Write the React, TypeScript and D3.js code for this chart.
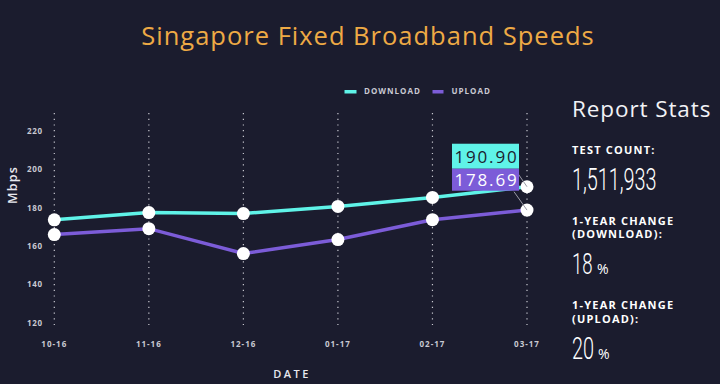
import React from "react";
import * as d3 from "d3";

const dates = ["10-16", "11-16", "12-16", "01-17", "02-17", "03-17"];
const download = [173.6, 177.4, 176.9, 180.6, 185.3, 190.9];
const upload = [165.9, 169.0, 156.0, 163.3, 173.7, 178.69];
const yTicks = [120, 140, 160, 180, 200, 220];
const title = "Singapore Fixed Broadband Speeds";
const statsTitle = "Report Stats";
const testCount = "1,511,933";
const dlChange = "18";
const ulChange = "20";

const W = 720;
const H = 384;
const BG = "#1b1c2e";
const CYAN = "#5ff3e8";
const PURPLE = "#7c5cd8";
const ORANGE = "#eeaa45";
const LABEL = "#c9c9d2";
const FONT = "'Open Sans', 'Noto Sans', sans-serif";

export default function App() {
  const x = d3.scalePoint<string>().domain(dates).range([54.3, 527]);
  const y = d3.scaleLinear().domain([120, 220]).range([322.5, 131]);
  const line = d3
    .line<number>()
    .x((_, i) => x(dates[i]) as number)
    .y((d) => y(d));

  const lastX = x(dates[dates.length - 1]) as number;
  const dlY = y(download[download.length - 1]);
  const ulY = y(upload[upload.length - 1]);
  const boxR = lastX - 8;
  const boxL = boxR - 67;
  const boxTop = dlY - 43;

  const statLabel = {
    fill: "#ffffff",
    fontFamily: FONT,
    fontSize: 11,
    fontWeight: 700,
    letterSpacing: 1.2,
  } as const;

  return (
    <svg
      width={W}
      height={H}
      style={{ position: "absolute", left: 0, top: 0, display: "block" }}
    >
      <rect x={0} y={0} width={W} height={H} fill={BG} />
      <text
        x={368}
        y={45}
        textAnchor="middle"
        fill={ORANGE}
        fontFamily={FONT}
        fontSize={25.5}
        fontWeight={400}
        letterSpacing={1}
      >
        {title}
      </text>

      {/* legend */}
      <rect x={344.5} y={90} width={12} height={3.5} fill={CYAN} />
      <text x={364} y={93.5} fill={LABEL} fontFamily={FONT} fontSize={8} fontWeight={700} letterSpacing={1}>
        DOWNLOAD
      </text>
      <rect x={432.5} y={90} width={11} height={3.5} fill={PURPLE} />
      <text x={451.5} y={93.5} fill={LABEL} fontFamily={FONT} fontSize={8} fontWeight={700} letterSpacing={1}>
        UPLOAD
      </text>

      {/* gridlines */}
      {dates.map((d) => (
        <line
          key={d}
          x1={x(d)}
          x2={x(d)}
          y1={113}
          y2={328}
          stroke="#c8c8d0"
          strokeWidth={1.2}
          strokeDasharray="1.2 4.5"
        />
      ))}

      {/* y ticks */}
      {yTicks.map((t) => (
        <text
          key={t}
          x={43}
          y={y(t) + 3}
          textAnchor="end"
          fill={LABEL}
          fontFamily={FONT}
          fontSize={8}
          fontWeight={700}
          letterSpacing={0.8}
        >
          {t}
        </text>
      ))}
      <text
        transform={`translate(17,185) rotate(-90)`}
        textAnchor="middle"
        fill="#e8e8ee"
        fontFamily={FONT}
        fontSize={12.5}
        fontWeight={600}
        letterSpacing={1.2}
      >
        Mbps
      </text>

      {/* x ticks */}
      {dates.map((d) => (
        <text
          key={d}
          x={x(d)}
          y={347}
          textAnchor="middle"
          fill={LABEL}
          fontFamily={FONT}
          fontSize={8}
          fontWeight={700}
          letterSpacing={1}
        >
          {d}
        </text>
      ))}
      <text
        x={292}
        y={378}
        textAnchor="middle"
        fill="#e8e8ee"
        fontFamily={FONT}
        fontSize={11}
        fontWeight={600}
        letterSpacing={2.5}
      >
        DATE
      </text>

      {/* lines */}
      <path d={line(download) || ""} fill="none" stroke={CYAN} strokeWidth={3.5} />
      <path d={line(upload) || ""} fill="none" stroke={PURPLE} strokeWidth={3.5} />
      {download.map((v, i) => (
        <circle key={"d" + i} cx={x(dates[i])} cy={y(v)} r={6.5} fill="#ffffff" />
      ))}
      {upload.map((v, i) => (
        <circle key={"u" + i} cx={x(dates[i])} cy={y(v)} r={6.5} fill="#ffffff" />
      ))}

      {/* tooltip */}
      <line x1={boxR - 3} y1={boxTop + 27} x2={lastX} y2={dlY} stroke="#9a9aa6" strokeWidth={1} />
      <line x1={boxR - 5} y1={boxTop + 48} x2={lastX} y2={ulY} stroke="#9a9aa6" strokeWidth={1} />
      <rect x={boxL} y={boxTop} width={boxR - boxL} height={25} fill={CYAN} />
      <rect x={boxL} y={boxTop + 25} width={boxR - boxL} height={22} fill={PURPLE} />
      <text
        x={(boxL + boxR) / 2 + 1}
        y={boxTop + 19}
        textAnchor="middle"
        fill="#1b1c2e"
        fontFamily={FONT}
        fontSize={17}
        letterSpacing={1.8}
      >
        {download[download.length - 1].toFixed(2)}
      </text>
      <text
        x={(boxL + boxR) / 2 + 1}
        y={boxTop + 42}
        textAnchor="middle"
        fill="#ffffff"
        fontFamily={FONT}
        fontSize={17}
        letterSpacing={1.8}
      >
        {upload[upload.length - 1].toFixed(2)}
      </text>

      {/* stats panel */}
      <text x={572} y={117} fill="#f2f2f6" fontFamily={FONT} fontSize={22.5} fontWeight={400} letterSpacing={0.9}>
        {statsTitle}
      </text>
      <text x={572} y={154} {...statLabel}>
        TEST COUNT:
      </text>
      <text
        transform="translate(572,189.5) scale(0.64,1)"
        fill="#ffffff"
        fontFamily="Roboto, sans-serif"
        fontSize={31}
        fontWeight={300}
      >
        {testCount}
      </text>
      <text x={572} y={224.5} {...statLabel}>
        1-YEAR CHANGE
      </text>
      <text x={572} y={238} {...statLabel}>
        (DOWNLOAD):
      </text>
      <text transform="translate(572,273.5) scale(0.64,1)" fill="#ffffff" fontFamily="Roboto, sans-serif" fontSize={29} fontWeight={300}>
        {dlChange}
      </text>
      <text x={597} y={273.5} fill="#ffffff" fontFamily={FONT} fontSize={14}>
        %
      </text>
      <text x={572} y={309} {...statLabel}>
        1-YEAR CHANGE
      </text>
      <text x={572} y={323} {...statLabel}>
        (UPLOAD):
      </text>
      <text transform="translate(572,358.5) scale(0.64,1)" fill="#ffffff" fontFamily="Roboto, sans-serif" fontSize={31} fontWeight={300}>
        {ulChange}
      </text>
      <text x={598} y={358.5} fill="#ffffff" fontFamily={FONT} fontSize={14}>
        %
      </text>
    </svg>
  );
}
